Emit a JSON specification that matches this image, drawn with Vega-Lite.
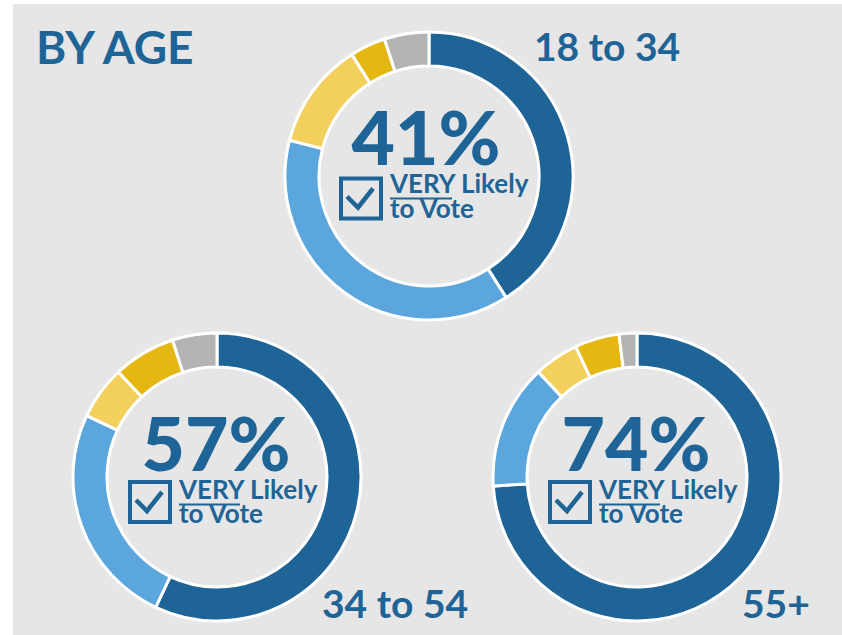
{
  "$schema": "https://vega.github.io/schema/vega-lite/v6.json",
  "background": "white",
  "padding": {"left": 13, "top": 4, "right": 0, "bottom": 0},
  "spacing": 0,
  "bounds": "flush",
  "config": {"view": {"fill": "#E6E6E6", "stroke": null}, "concat": {"spacing": 0}, "text": {"font": "Lato", "fontWeight": "bold", "color": "#1F6496"}},
  "datasets": {
    "votes": [
      {"age": "18 to 34", "response": "Very likely", "rank": 1, "share": 0.41},
      {"age": "18 to 34", "response": "Somewhat likely", "rank": 2, "share": 0.38},
      {"age": "18 to 34", "response": "Not too likely", "rank": 3, "share": 0.12},
      {"age": "18 to 34", "response": "Not at all likely", "rank": 4, "share": 0.04},
      {"age": "18 to 34", "response": "Don't know", "rank": 5, "share": 0.05},
      {"age": "34 to 54", "response": "Very likely", "rank": 1, "share": 0.57},
      {"age": "34 to 54", "response": "Somewhat likely", "rank": 2, "share": 0.25},
      {"age": "34 to 54", "response": "Not too likely", "rank": 3, "share": 0.06},
      {"age": "34 to 54", "response": "Not at all likely", "rank": 4, "share": 0.07},
      {"age": "34 to 54", "response": "Don't know", "rank": 5, "share": 0.05},
      {"age": "55+", "response": "Very likely", "rank": 1, "share": 0.74},
      {"age": "55+", "response": "Somewhat likely", "rank": 2, "share": 0.14},
      {"age": "55+", "response": "Not too likely", "rank": 3, "share": 0.05},
      {"age": "55+", "response": "Not at all likely", "rank": 4, "share": 0.05},
      {"age": "55+", "response": "Don't know", "rank": 5, "share": 0.02}
    ]
  },
  "vconcat": [
    {
      "width": 829,
      "height": 344,
      "data": {"name": "votes"},
      "transform": [
        {"filter": "datum.age === '18 to 34'"},
        {"stack": "share", "groupby": ["age"], "sort": [{"field": "rank", "order": "ascending"}], "as": ["s0", "s1"]}
      ],
      "encoding": {
        "x": {"field": "age", "type": "nominal", "axis": null, "scale": {"type": "point", "domain": ["18 to 34"], "range": [416, 416], "padding": 0}},
        "y": {"field": "age", "type": "nominal", "axis": null, "scale": {"type": "point", "domain": ["18 to 34"], "range": [172, 172], "padding": 0}}
      },
      "layer": [
        {
          "mark": {"type": "arc", "innerRadius": 110, "outerRadius": 144, "stroke": "white", "strokeWidth": 3},
          "encoding": {
            "theta": {"field": "s0", "type": "quantitative", "scale": {"domain": [0, 1]}},
            "theta2": {"field": "s1"},
            "color": {"field": "response", "type": "nominal", "legend": null,
              "scale": {"domain": ["Very likely", "Somewhat likely", "Not too likely", "Not at all likely", "Don't know"],
                        "range": ["#1F6496", "#5CA6DE", "#F3D05C", "#E5B713", "#B3B3B3"]}}
          }
        },
        {
          "transform": [{"filter": "datum.rank === 1"}],
          "mark": {"type": "text", "fontSize": 75, "fontWeight": 900, "align": "center", "baseline": "alphabetic", "dx": -3, "dy": -11},
          "encoding": {"text": {"field": "share", "type": "quantitative", "format": ".0%"}}
        },
        {
          "transform": [{"filter": "datum.rank === 1"}],
          "mark": {"type": "point", "shape": "square", "filled": false, "size": 1600, "stroke": "#1F6496", "strokeWidth": 4, "opacity": 1, "xOffset": -68, "yOffset": 22.5},
          "encoding": {}
        },
        {
          "transform": [{"filter": "datum.rank === 1"}],
          "mark": {"type": "point", "shape": "M-0.7,-0.1L-0.15,0.45L0.6,-0.5", "filled": false, "size": 1600, "stroke": "#1F6496", "strokeWidth": 4.5, "opacity": 1, "xOffset": -68, "yOffset": 22.5},
          "encoding": {}
        },
        {
          "transform": [{"filter": "datum.rank === 1"}],
          "mark": {"type": "point", "shape": "M-1,0L1,0", "filled": false, "size": 3844, "stroke": "#1F6496", "strokeWidth": 2, "opacity": 1, "xOffset": -8, "yOffset": 22.5},
          "encoding": {}
        },
        {
          "transform": [{"filter": "datum.rank === 1"}],
          "mark": {"type": "text", "text": "VERY Likely", "fontSize": 26, "align": "left", "baseline": "alphabetic", "dx": -39, "dy": 17},
          "encoding": {}
        },
        {
          "transform": [{"filter": "datum.rank === 1"}],
          "mark": {"type": "text", "text": "to Vote", "fontSize": 26, "align": "left", "baseline": "alphabetic", "dx": -39, "dy": 42},
          "encoding": {}
        },
        {
          "transform": [{"filter": "datum.rank === 1"}],
          "mark": {"type": "text", "fontSize": 39, "align": "left", "baseline": "alphabetic", "dx": 105, "dy": -115},
          "encoding": {"text": {"field": "age", "type": "nominal"}}
        },
        {
          "transform": [{"filter": "datum.rank === 1"}],
          "mark": {"type": "text", "text": "BY AGE", "fontSize": 46, "align": "left", "baseline": "alphabetic", "dx": -393, "dy": -112},
          "encoding": {}
        }
      ]
    },
    {
      "width": 829,
      "height": 287,
      "data": {"name": "votes"},
      "transform": [
        {"filter": "datum.age !== '18 to 34'"},
        {"stack": "share", "groupby": ["age"], "sort": [{"field": "rank", "order": "ascending"}], "as": ["s0", "s1"]}
      ],
      "encoding": {
        "x": {"field": "age", "type": "nominal", "axis": null, "scale": {"type": "point", "domain": ["34 to 54", "55+"], "range": [204, 624], "padding": 0}},
        "y": {"field": "age", "type": "nominal", "axis": null, "scale": {"type": "point", "domain": ["34 to 54", "55+"], "range": [129, 129], "padding": 0}}
      },
      "layer": [
        {
          "mark": {"type": "arc", "innerRadius": 110, "outerRadius": 144, "stroke": "white", "strokeWidth": 3},
          "encoding": {
            "theta": {"field": "s0", "type": "quantitative", "scale": {"domain": [0, 1]}},
            "theta2": {"field": "s1"},
            "color": {"field": "response", "type": "nominal", "legend": null,
              "scale": {"domain": ["Very likely", "Somewhat likely", "Not too likely", "Not at all likely", "Don't know"],
                        "range": ["#1F6496", "#5CA6DE", "#F3D05C", "#E5B713", "#B3B3B3"]}}
          }
        },
        {
          "transform": [{"filter": "datum.rank === 1"}],
          "mark": {"type": "text", "fontSize": 75, "fontWeight": 900, "align": "center", "baseline": "alphabetic", "dx": -1, "dy": -6.5},
          "encoding": {"text": {"field": "share", "type": "quantitative", "format": ".0%"}}
        },
        {
          "transform": [{"filter": "datum.rank === 1"}],
          "mark": {"type": "point", "shape": "square", "filled": false, "size": 1600, "stroke": "#1F6496", "strokeWidth": 4, "opacity": 1, "xOffset": -67, "yOffset": 25},
          "encoding": {}
        },
        {
          "transform": [{"filter": "datum.rank === 1"}],
          "mark": {"type": "point", "shape": "M-0.7,-0.1L-0.15,0.45L0.6,-0.5", "filled": false, "size": 1600, "stroke": "#1F6496", "strokeWidth": 4.5, "opacity": 1, "xOffset": -67, "yOffset": 25},
          "encoding": {}
        },
        {
          "transform": [{"filter": "datum.rank === 1"}],
          "mark": {"type": "point", "shape": "M-1,0L1,0", "filled": false, "size": 3721, "stroke": "#1F6496", "strokeWidth": 2, "opacity": 1, "xOffset": -7.5, "yOffset": 27.5},
          "encoding": {}
        },
        {
          "transform": [{"filter": "datum.rank === 1"}],
          "mark": {"type": "text", "text": "VERY Likely", "fontSize": 26, "align": "left", "baseline": "alphabetic", "dx": -38, "dy": 22},
          "encoding": {}
        },
        {
          "transform": [{"filter": "datum.rank === 1"}],
          "mark": {"type": "text", "text": "to Vote", "fontSize": 26, "align": "left", "baseline": "alphabetic", "dx": -38, "dy": 45.5},
          "encoding": {}
        },
        {
          "transform": [{"filter": "datum.rank === 1"}],
          "mark": {"type": "text", "fontSize": 39, "align": "left", "baseline": "alphabetic", "dx": 105, "dy": 141},
          "encoding": {"text": {"field": "age", "type": "nominal"}}
        }
      ]
    }
  ]
}
